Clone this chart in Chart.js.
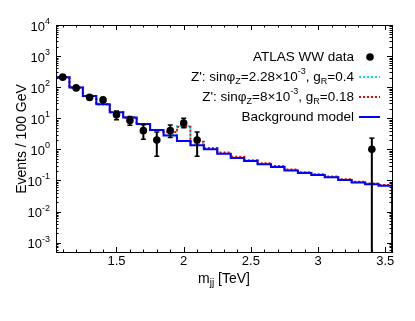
<!DOCTYPE html>
<html><head><meta charset="utf-8">
<script src="https://cdn.jsdelivr.net/npm/chart.js@4/dist/chart.umd.min.js"></script>
<style>html,body{margin:0;padding:0;background:#fff}canvas{display:block}</style>
</head><body>
<canvas id="c" width="415" height="321"></canvas>
<script>
// ---- data ----
const binCenters = [1.1,1.2,1.3,1.4,1.5,1.6,1.7,1.8,1.9,2.0,2.1,2.2,2.3,2.4,2.5,2.6,2.7,2.8,2.9,3.0,3.1,3.2,3.3,3.4,3.5];
const binWidth = 0.1;
const background = [210,97,52,28,15.5,10.5,6.5,4.2,2.8,1.85,1.35,1.0,0.72,0.53,0.42,0.33,0.27,0.21,0.175,0.15,0.126,0.104,0.086,0.076,0.068];
const zprimeCyan = [210,97,52,28,15.5,10.5,6.5,4.2,3.0,5.6,1.55,1.03,0.74,0.55,0.43,0.34,0.28,0.215,0.18,0.153,0.128,0.106,0.088,0.078,0.07];
const zprimeRed  = [210,97,52,28,15.5,10.5,6.5,4.2,3.6,5.3,1.75,1.1,0.8,0.58,0.45,0.355,0.29,0.225,0.185,0.158,0.133,0.11,0.091,0.08,0.072];
const dataMass    = [1.1,1.2,1.3,1.4,1.5,1.6,1.7,1.8,1.9,2.0,2.1,3.4];
const dataEvents  = [210,95,47,39,13,8.5,4,2,4,7,2,1];
const dataErrHigh = [224,105,54,45,17,11.5,6.2,3.6,6.1,10,3.6,2.3];
const dataErrLow  = [196,85,40,33,9,6,2.1,0.6,2.4,5,0.6,0];
const xTickLabels = ['1.5','2','2.5','3','3.5'];
const yDecades = [-3,-2,-1,0,1,2,3,4];
const X_MIN = 1.05, X_MAX = 3.55, Y_MIN = 5e-4, Y_MAX = 1e4;

const legendRows = [
  {kind:'dot', segs:[['ATLAS WW data','n']]},
  {kind:'line', color:'#00e8e8', dash:[2,2], segs:[["Z': sinφ",'n'],['Z','sub'],['=2.28×10','n'],['-3','sup'],[', g','n'],['R','sub'],['=0.4','n']]},
  {kind:'line', color:'#ff0000', dash:[2,2], segs:[["Z': sinφ",'n'],['Z','sub'],['=8×10','n'],['-3','sup'],[', g','n'],['R','sub'],['=0.18','n']]},
  {kind:'line', color:'#0000ff', dash:[], segs:[['Background model','n']]}
];

function histPoints(vals){
  const pts=[{x:binCenters[0]-binWidth/2, y:Y_MIN}];
  vals.forEach((v,i)=>pts.push({x:binCenters[i]-binWidth/2, y:v}));
  const last=binCenters[binCenters.length-1]+binWidth/2;
  pts.push({x:last, y:vals[vals.length-1]});
  pts.push({x:last, y:Y_MIN});
  return pts;
}

const FONT = '"Liberation Sans", Arial, sans-serif';

function segWidth(ctx, segs, size){
  let w=0;
  for(const [t,m] of segs){
    ctx.font = ((m==='n')?size:Math.round(size*0.7))+'px '+FONT;
    w += ctx.measureText(t).width;
  }
  return w;
}
function drawRich(ctx, segs, x, y, size, align){
  const w = segWidth(ctx, segs, size);
  let cx = align==='right' ? x-w : (align==='center' ? x-w/2 : x);
  ctx.textBaseline='middle'; ctx.textAlign='left'; ctx.fillStyle='#000';
  for(const [t,m] of segs){
    const s = (m==='n')?size:Math.round(size*0.7);
    ctx.font = s+'px '+FONT;
    const dy = m==='sup' ? -size*0.42 : (m==='sub' ? size*0.3 : 0);
    ctx.fillText(t, cx, y+dy);
    cx += ctx.measureText(t).width;
  }
}

const errorBars = {
  id:'errorBars',
  beforeDatasetDraw(chart, args){
    if(args.index!==0) return;
    const xs=chart.scales.x, ys=chart.scales.y, ca=chart.chartArea;
    const ctx=chart.ctx;
    ctx.save();
    ctx.strokeStyle='#000'; ctx.lineWidth=2;
    dataMass.forEach((m,i)=>{
      const px=xs.getPixelForValue(m);
      const top=ys.getPixelForValue(dataErrHigh[i]);
      const lo=dataErrLow[i];
      const bot= lo>Y_MIN ? ys.getPixelForValue(lo) : ca.bottom;
      ctx.beginPath(); ctx.moveTo(px,top); ctx.lineTo(px,bot); ctx.stroke();
      ctx.lineWidth=1.5;
      ctx.beginPath(); ctx.moveTo(px-2.5,top); ctx.lineTo(px+2.5,top);
      if(lo>Y_MIN){ ctx.moveTo(px-2.5,bot); ctx.lineTo(px+2.5,bot); }
      ctx.stroke();
      ctx.lineWidth=2;
    });
    ctx.restore();
  }
};

const decor = {
  id:'decor',
  afterDraw(chart){
    const ctx=chart.ctx, ca=chart.chartArea, xs=chart.scales.x, ys=chart.scales.y;
    ctx.save();
    // frame
    ctx.strokeStyle='#000'; ctx.lineWidth=1;
    ctx.strokeRect(Math.round(ca.left)+0.5, Math.round(ca.top)+0.5, Math.round(ca.right-ca.left), Math.round(ca.bottom-ca.top));
    ctx.beginPath();
    // x ticks
    for(let k=11;k<=35;k++){
      const v=k/10; if(v<X_MIN||v>X_MAX) continue;
      const px=Math.round(xs.getPixelForValue(v))+0.5;
      const len = (k%5===0)?5:2.5;
      ctx.moveTo(px,ca.bottom); ctx.lineTo(px,ca.bottom-len);
      ctx.moveTo(px,ca.top); ctx.lineTo(px,ca.top+len);
    }
    // y ticks
    for(const d of yDecades.concat([-4])){
      for(let m=1;m<=9;m++){
        const v=m*Math.pow(10,d); if(v<Y_MIN||v>Y_MAX) continue;
        const py=Math.round(ys.getPixelForValue(v))+0.5;
        const len=(m===1)?5:2.5;
        ctx.moveTo(ca.left,py); ctx.lineTo(ca.left+len,py);
        ctx.moveTo(ca.right,py); ctx.lineTo(ca.right-len,py);
      }
    }
    ctx.stroke();
    // x tick labels
    ctx.fillStyle='#000'; ctx.font='13px '+FONT; ctx.textAlign='center'; ctx.textBaseline='middle';
    xTickLabels.forEach(t=>{ ctx.fillText(t, xs.getPixelForValue(parseFloat(t)), ca.bottom+9); });
    // y tick labels
    yDecades.forEach(d=>{
      const py=ys.getPixelForValue(Math.pow(10,d));
      drawRich(ctx, [['10','n'],[String(d),'sup']], ca.left-6, py+2, 13, 'right');
    });
    // axis titles
    drawRich(ctx, [['m','n'],['jj','sub'],[' [TeV]','n']], (ca.left+ca.right)/2, ca.bottom+27, 14, 'center');
    ctx.save(); ctx.translate(22, (ca.top+ca.bottom)/2+0.5); ctx.rotate(-Math.PI/2);
    drawRich(ctx, [['Events / 100 GeV','n']], 0, 0, 14, 'center');
    ctx.restore();
    // legend
    const xr=ca.right-38, y0=ca.top+32, dy=20;
    legendRows.forEach((r,i)=>{
      const y=y0+i*dy;
      drawRich(ctx, r.segs, xr, y, 13.5, 'right');
      if(r.kind==='dot'){
        ctx.beginPath(); ctx.arc(xr+16, y, 3.8, 0, Math.PI*2); ctx.fillStyle='#000'; ctx.fill();
      } else {
        ctx.save(); ctx.strokeStyle=r.color; ctx.lineWidth=2; ctx.setLineDash(r.dash);
        ctx.beginPath(); ctx.moveTo(xr+5,y); ctx.lineTo(xr+26,y); ctx.stroke(); ctx.restore();
      }
    });
    ctx.restore();
  }
};

new Chart(document.getElementById('c'), {
  type:'line',
  data:{datasets:[
    {type:'scatter', label:'ATLAS WW data', data:dataMass.map((x,i)=>({x, y:dataEvents[i]})),
      pointRadius:3.8, pointBackgroundColor:'#000', pointBorderWidth:0, showLine:false, order:0},
    {label:'Background model', data:histPoints(background), stepped:'before', borderColor:'#0000ff', borderWidth:2,
      pointRadius:0, fill:false, order:1},
    {label:"Z' 8e-3", data:histPoints(zprimeRed), stepped:'before', borderColor:'#ff0000', borderWidth:2,
      borderDash:[2,2], pointRadius:0, fill:false, order:2},
    {label:"Z' 2.28e-3", data:histPoints(zprimeCyan), stepped:'before', borderColor:'#00e8e8', borderWidth:2,
      borderDash:[2,2], pointRadius:0, fill:false, order:3}
  ]},
  options:{
    responsive:false, animation:false, events:[],
    layout:{padding:{left:56, top:25, right:23, bottom:69}},
    plugins:{legend:{display:false}, tooltip:{enabled:false}},
    scales:{
      x:{type:'linear', min:X_MIN, max:X_MAX, display:false},
      y:{type:'logarithmic', min:Y_MIN, max:Y_MAX, display:false}
    }
  },
  plugins:[errorBars, decor]
});
</script>
</body></html>
